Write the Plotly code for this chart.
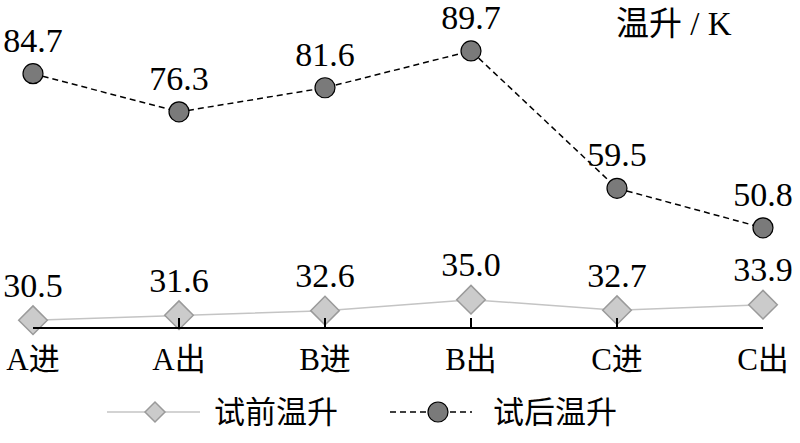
import plotly.graph_objects as go

categories = ["A进", "A出", "B进", "B出", "C进", "C出"]
before_vals = [30.5, 31.6, 32.6, 35.0, 32.7, 33.9]
after_vals = [84.7, 76.3, 81.6, 89.7, 59.5, 50.8]
series_names = ["试前温升", "试后温升"]
y_title = "温升 / K"

FONT = "Liberation Serif, Noto Sans CJK SC"
W, H = 800, 443
ML, MR, MT, MB = 33, 37, 20, 116
PW, PH = W - ML - MR, H - MT - MB


def px2paper_x(px):
    return (px - ML) / PW


def px2paper_y(py):
    return (H - MB - py) / PH


xpos = list(range(len(categories)))

BEFORE_LINE = "#c4c4c4"
BEFORE_FILL = "#cbcbcb"
BEFORE_EDGE = "#9a9a9a"
AFTER_FILL = "#7a7a7a"

fig = go.Figure()
fig.add_trace(go.Scatter(
    x=xpos, y=before_vals, name=series_names[0],
    mode="lines+markers+text",
    line=dict(color=BEFORE_LINE, width=1.5),
    marker=dict(symbol="diamond", size=22, color=BEFORE_FILL,
                line=dict(color=BEFORE_EDGE, width=1.5)),
    text=[f"{v:.1f}" for v in before_vals], textposition="top center",
    textfont=dict(family=FONT, size=34, color="#000000"),
    cliponaxis=False, showlegend=False,
))
fig.add_trace(go.Scatter(
    x=xpos, y=after_vals, name=series_names[1],
    mode="lines+markers+text",
    line=dict(color="#000000", width=1.5, dash="6px,4px"),
    marker=dict(symbol="circle", size=20, color=AFTER_FILL,
                line=dict(color="#000000", width=1.2)),
    text=[f"{v:.1f}" for v in after_vals], textposition="top center",
    textfont=dict(family=FONT, size=34, color="#000000"),
    cliponaxis=False, showlegend=False,
))

# custom legend (line samples + symbols + labels)
ly = px2paper_y(412)
shapes = [
    dict(type="line", xref="paper", yref="paper", x0=px2paper_x(107), x1=px2paper_x(200),
         y0=ly, y1=ly, line=dict(color=BEFORE_LINE, width=1.5)),
    dict(type="path", xref="paper", yref="paper", xsizemode="pixel", ysizemode="pixel",
         xanchor=px2paper_x(155), yanchor=ly,
         path="M -10 0 L 0 10 L 10 0 L 0 -10 Z",
         fillcolor=BEFORE_FILL, line=dict(color=BEFORE_EDGE, width=1.5)),
    dict(type="line", xref="paper", yref="paper", x0=px2paper_x(390), x1=px2paper_x(472),
         y0=ly, y1=ly, line=dict(color="#000000", width=1.5, dash="6px,4px")),
    dict(type="circle", xref="paper", yref="paper", xsizemode="pixel", ysizemode="pixel",
         xanchor=px2paper_x(438), yanchor=ly, x0=-10, x1=10, y0=-10, y1=10,
         fillcolor=AFTER_FILL, line=dict(color="#000000", width=1.2)),
]
annotations = [
    dict(text=series_names[0], xref="paper", yref="paper", x=px2paper_x(212), y=ly,
         xanchor="left", yanchor="middle", showarrow=False, font=dict(family=FONT, size=31)),
    dict(text=series_names[1], xref="paper", yref="paper", x=px2paper_x(491), y=ly,
         xanchor="left", yanchor="middle", showarrow=False, font=dict(family=FONT, size=31)),
    dict(text=y_title, xref="paper", yref="paper", x=px2paper_x(674), y=px2paper_y(24),
         showarrow=False, font=dict(family=FONT, size=33), xanchor="center", yanchor="middle"),
]

fig.update_layout(
    width=W, height=H,
    margin=dict(l=ML, r=MR, t=MT, b=MB, autoexpand=False),
    paper_bgcolor="white", plot_bgcolor="white",
    font=dict(family=FONT, size=30, color="#000000"),
    showlegend=False,
    hovermode=False,
    xaxis=dict(range=[0, 5], tickvals=xpos, ticktext=categories,
               showgrid=False, zeroline=False, showline=True, linecolor="#000000", linewidth=1.5,
               ticks="inside", ticklen=9, tickcolor="#000000", tickwidth=1.5,
               ticklabelstandoff=4, automargin=False,
               tickfont=dict(family=FONT, size=31)),
    yaxis=dict(range=[29, 96.5], visible=False, automargin=False),
    shapes=shapes,
    annotations=annotations,
)

fig.write_html(
    "out.html",
    config={"displayModeBar": False},
    post_script="document.body.style.margin='0';document.body.style.overflow='hidden';",
)
